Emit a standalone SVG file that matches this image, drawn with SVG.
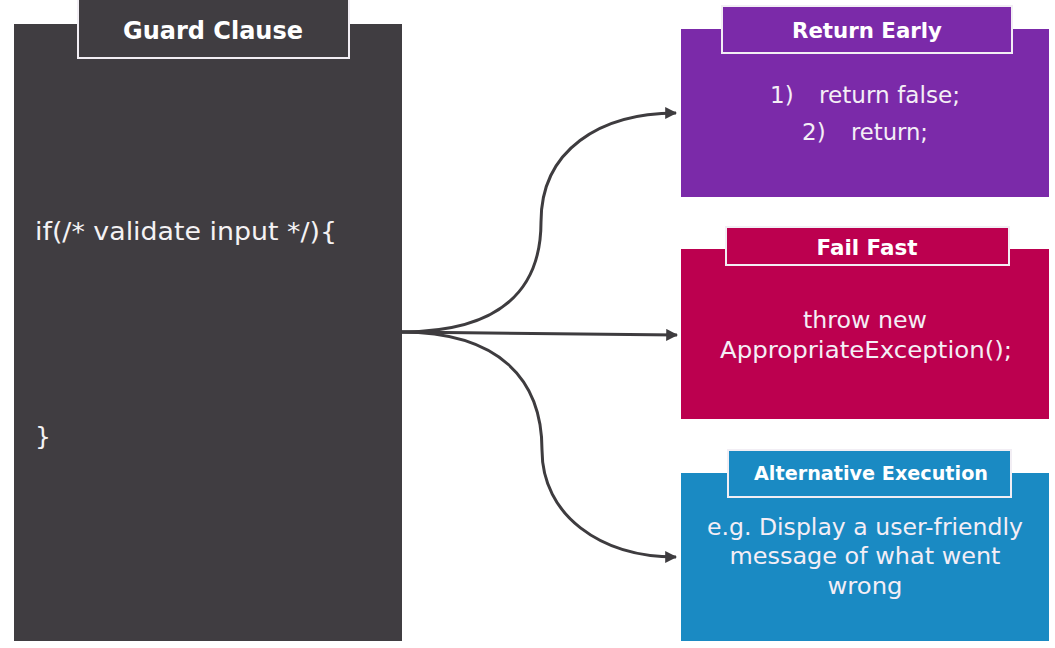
<svg xmlns="http://www.w3.org/2000/svg" width="1055" height="648" viewBox="0 0 1055 648">
<style>
.tab{stroke:#f2eef4;stroke-width:2}
.head{font-family:"DejaVu Sans","Liberation Sans",sans-serif;font-weight:bold;fill:#ffffff;text-anchor:middle}
.body{font-family:"DejaVu Sans","Liberation Sans",sans-serif;fill:#f4eef6;font-size:23px;text-anchor:middle}
.num{font-family:"DejaVu Sans","Liberation Sans",sans-serif;fill:#f4eef6;font-size:23px}
.code{font-family:"DejaVu Sans","Liberation Sans",sans-serif;fill:#f4f2f4;font-size:25px}
.conn{fill:none;stroke:#3e3c3f;stroke-width:3}
</style>
<defs>
<marker id="arr" viewBox="0 0 10 10" refX="9" refY="5" markerWidth="4" markerHeight="4" orient="auto" markerUnits="strokeWidth">
<path d="M0,0 L10,5 L0,10 z" fill="#3e3c3f"/>
</marker>
</defs>
<rect width="1055" height="648" fill="#ffffff"/>
<g id="guard">
<rect x="14" y="24" width="388" height="617" fill="#403d41"/>
<rect class="tab" x="78" y="-2" width="271" height="60" fill="#403d41"/>
<text class="head" x="213" y="39" font-size="25" textLength="180" lengthAdjust="spacingAndGlyphs">Guard Clause</text>
<text class="code" x="35" y="240" textLength="302" lengthAdjust="spacingAndGlyphs">if(/* validate input */){</text>
<text class="code" x="35" y="445">}</text>
</g>
<g id="connectors">
<path class="conn" d="M401,332 C500,332 541,290 541,222 C541,150 600,113 676,113" marker-end="url(#arr)"/>
<path class="conn" d="M401,332 L677,335" marker-end="url(#arr)"/>
<path class="conn" d="M401,332 C500,332 542,380 542,450 C542,515 600,557 676,557" marker-end="url(#arr)"/>
</g>
<g id="return-early">
<rect x="681" y="29" width="368" height="168" fill="#7b2aa9"/>
<rect class="tab" x="722" y="6" width="290" height="47" fill="#7b2aa9"/>
<text class="head" x="867" y="38" font-size="22" textLength="150" lengthAdjust="spacingAndGlyphs">Return Early</text>
<text class="num" x="770" y="103">1)</text>
<text class="num" x="819" y="103" textLength="141" lengthAdjust="spacingAndGlyphs">return false;</text>
<text class="num" x="802" y="140">2)</text>
<text class="num" x="851" y="140" textLength="77" lengthAdjust="spacingAndGlyphs">return;</text>
</g>
<g id="fail-fast">
<rect x="681" y="249" width="368" height="170" fill="#bc004f"/>
<rect class="tab" x="726" y="227" width="283" height="38" fill="#bc004f"/>
<text class="head" x="867" y="255" font-size="21" textLength="101" lengthAdjust="spacingAndGlyphs">Fail Fast</text>
<text class="body" x="865" y="328" textLength="124" lengthAdjust="spacingAndGlyphs">throw new</text>
<text class="body" x="866" y="358" textLength="292" lengthAdjust="spacingAndGlyphs">AppropriateException();</text>
</g>
<g id="alt-exec">
<rect x="681" y="473" width="368" height="168" fill="#1a8ac3"/>
<rect class="tab" x="728" y="450" width="283" height="47" fill="#1a8ac3"/>
<text class="head" x="871" y="480" font-size="20" textLength="234" lengthAdjust="spacingAndGlyphs">Alternative Execution</text>
<text class="body" x="865" y="535" textLength="316" lengthAdjust="spacingAndGlyphs">e.g. Display a user-friendly</text>
<text class="body" x="865" y="564" textLength="271" lengthAdjust="spacingAndGlyphs">message of what went</text>
<text class="body" x="865" y="594" textLength="75" lengthAdjust="spacingAndGlyphs">wrong</text>
</g>
</svg>
